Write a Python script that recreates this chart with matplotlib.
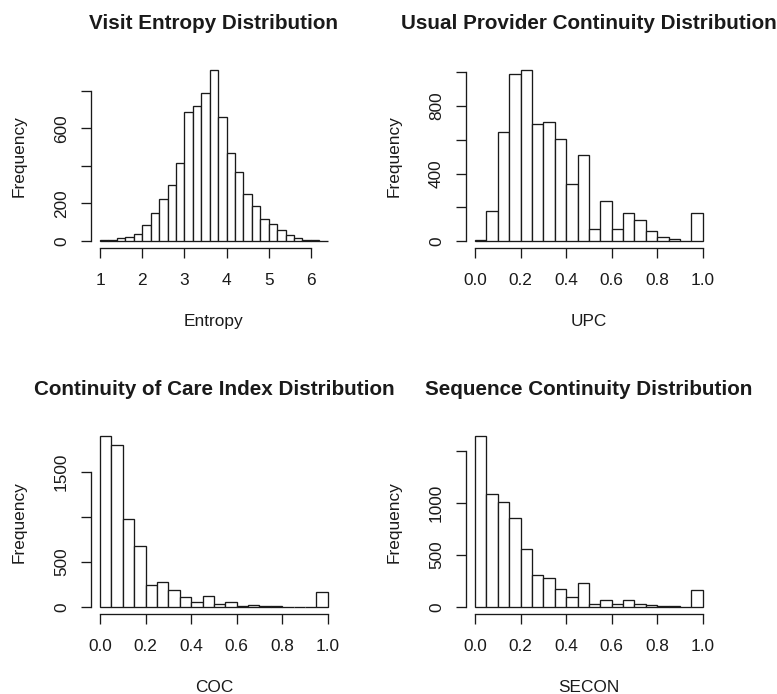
import numpy as np
import matplotlib
matplotlib.use("Agg")
import matplotlib.pyplot as plt
from matplotlib.transforms import blended_transform_factory, ScaledTranslation

plt.rcParams['font.family'] = ['Liberation Sans', 'DejaVu Sans']

# ---------------- data ----------------
titles = ["Visit Entropy Distribution", "Usual Provider Continuity Distribution",
          "Continuity of Care Index Distribution", "Sequence Continuity Distribution"]
xlabels = ["Entropy", "UPC", "COC", "SECON"]

entropy_start, entropy_width = 1.0, 0.2
entropy_counts = [4, 7, 14, 20, 37, 85, 151, 222, 300, 418, 686, 718, 788, 909,
                  663, 471, 370, 252, 185, 117, 92, 57, 30, 14, 7, 4, 2]

upc_start, upc_width = 0.0, 0.05
upc_counts = [3, 176, 648, 988, 1012, 692, 703, 607, 336, 512,
              73, 235, 71, 166, 124, 59, 22, 14, 0, 166]

coc_start, coc_width = 0.0, 0.05
coc_counts = [1889, 1790, 970, 679, 240, 273, 192, 114, 52, 118,
              30, 59, 7, 26, 15, 7, 2, 1, 1, 166]

secon_start, secon_width = 0.0, 0.05
secon_counts = [1638, 1088, 1005, 854, 560, 304, 278, 176, 96, 234,
                26, 67, 26, 67, 32, 16, 10, 6, 0, 166]

entropy_xticks = [1, 2, 3, 4, 5, 6]
entropy_xticklabels = ["1", "2", "3", "4", "5", "6"]
unit_xticks = [0.0, 0.2, 0.4, 0.6, 0.8, 1.0]
unit_xticklabels = ["0.0", "0.2", "0.4", "0.6", "0.8", "1.0"]

entropy_yticks = [0, 200, 400, 600, 800]
entropy_yticklabels = ["0", "200", "", "600", ""]
upc_yticks = [0, 200, 400, 600, 800, 1000]
upc_yticklabels = ["0", "", "400", "", "800", ""]
coc_yticks = [0, 500, 1000, 1500]
coc_yticklabels = ["0", "500", "", "1500"]
secon_yticks = [0, 500, 1000, 1500]
secon_yticklabels = ["0", "500", "1000", ""]

panels = [
    (entropy_start, entropy_width, entropy_counts, entropy_xticks, entropy_xticklabels, entropy_yticks, entropy_yticklabels),
    (upc_start, upc_width, upc_counts, unit_xticks, unit_xticklabels, upc_yticks, upc_yticklabels),
    (coc_start, coc_width, coc_counts, unit_xticks, unit_xticklabels, coc_yticks, coc_yticklabels),
    (secon_start, secon_width, secon_counts, unit_xticks, unit_xticklabels, secon_yticks, secon_yticklabels),
]

# ---------------- layout ----------------
W, H, DPI = 777, 694, 100
fig = plt.figure(figsize=(W / DPI, H / DPI), dpi=DPI)
fig.patch.set_facecolor("white")

col_left = [90.9, 465.9]
col_w = 246.0
row_bottom = [247.8, 613.8]
row_h = 184.2

TXT = "#1a1a1a"
LW = 0.95
tick_fs = 12.4
title_fs = 14.9

for i, (start, width, counts, xt, xtl, yt, ytl) in enumerate(panels):
    r, c = divmod(i, 2)
    left = col_left[c]
    bottom = row_bottom[r]
    ax = fig.add_axes([left / W, 1 - bottom / H, col_w / W, row_h / H])
    counts = np.asarray(counts, dtype=float)
    n = len(counts)
    edges = start + width * np.arange(n + 1)
    ax.bar(edges[:-1], counts, width=width, align='edge', color='white',
           edgecolor=TXT, linewidth=LW)
    x0, x1 = edges[0], edges[-1]
    dx = 0.04 * (x1 - x0)
    ymax = counts.max()
    dy = 0.04 * ymax
    ax.set_xlim(x0 - dx, x1 + dx)
    ax.set_ylim(-dy, ymax + dy)
    ax.set_facecolor('none')

    for s in ['top', 'right']:
        ax.spines[s].set_visible(False)
    ax.spines['bottom'].set_bounds(xt[0], xt[-1])
    ax.spines['left'].set_bounds(yt[0], yt[-1])
    for s in ['bottom', 'left']:
        ax.spines[s].set_linewidth(LW)
        ax.spines[s].set_color(TXT)
    ax.set_xticks(xt)
    ax.set_yticks(yt)
    ax.tick_params(axis='both', direction='out', length=7.4, width=LW, color=TXT,
                   labelbottom=False, labelleft=False)

    # x tick labels
    tx = blended_transform_factory(ax.transData, ax.transAxes) + \
        ScaledTranslation(0, -37.3 / DPI, fig.dpi_scale_trans)
    for v, s in zip(xt, xtl):
        ax.text(v, 0, s, transform=tx, ha='center', va='baseline',
                fontsize=tick_fs, color=TXT)
    # y tick labels
    ty = blended_transform_factory(ax.transAxes, ax.transData) + \
        ScaledTranslation(-25.0 / DPI, 0, fig.dpi_scale_trans)
    for v, s in zip(yt, ytl):
        if s:
            ax.text(0, v, s, transform=ty, ha='center', va='baseline',
                    rotation=90, rotation_mode='anchor', fontsize=tick_fs, color=TXT)

    cx = left + col_w / 2
    top = bottom - row_h
    # title
    fig.text(cx / W, 1 - (top - 34.3) / H, titles[i], ha='center', va='baseline',
             fontsize=title_fs, fontweight='bold', color=TXT)
    # x label
    fig.text(cx / W, 1 - (bottom + 78.5) / H, xlabels[i], ha='center', va='baseline',
             fontsize=tick_fs, color=TXT)
    # y label
    fig.text((left - 66.8) / W, 1 - (bottom - row_h / 2) / H, "Frequency",
             ha='center', va='baseline', rotation=90, rotation_mode='anchor',
             fontsize=tick_fs, color=TXT)

fig.savefig("out.png", dpi=DPI, facecolor="white")
